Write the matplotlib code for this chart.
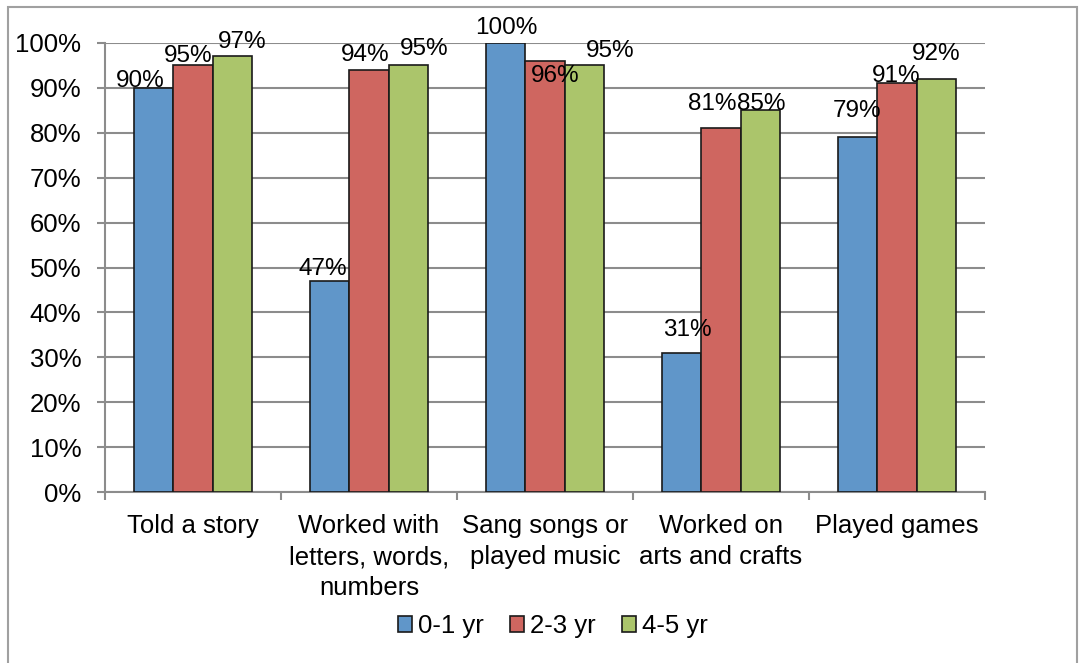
import numpy as np
import matplotlib.pyplot as plt
from matplotlib.patches import Rectangle

plt.rcParams['font.family'] = ['Liberation Sans', 'DejaVu Sans']

categories = ['Told a story', 'Worked with\nletters, words,\nnumbers', 'Sang songs or\nplayed music',
              'Worked on\narts and crafts', 'Played games']
series = ['0-1 yr', '2-3 yr', '4-5 yr']
vals_01 = [90, 47, 100, 31, 79]
vals_23 = [95, 94, 96, 81, 91]
vals_45 = [97, 95, 95, 85, 92]
colors = ['#6096C9', '#CF6660', '#ABC56B']

# label nudges (pixels, baseline relative to bar top) as placed in the original chart
offsets = [
    [(-14, 1), (-7, 6), (0, 9), (5, 17), (-1, 20)],
    [(-5, 3), (-4, 9), (10, -21), (-9, 18), (-1, 1)],
    [(10, 8), (16, 10), (26, 8), (1, 0), (0, 19)],
]

fig = plt.figure(figsize=(10.84, 6.63), dpi=100)
ax = fig.add_axes([105/1084, 1-492/663, 880/1084, 449/663])

x = np.arange(len(categories))
w = 1/4.5
for i, (vals, c) in enumerate(zip([vals_01, vals_23, vals_45], colors)):
    bars = ax.bar(x + (i-1)*w, vals, w, color=c, edgecolor='#1a1a1a', linewidth=1.2,
                  label=series[i], zorder=3)
    for b, v, (dx, dy) in zip(bars, vals, offsets[i]):
        ax.annotate(f'{v}%', (b.get_x() + b.get_width()/2, v), xytext=(dx, dy),
                    textcoords='offset pixels', ha='center', va='baseline',
                    fontsize=17.5, zorder=4)

ax.set_xlim(-0.5, 4.5)
ax.set_ylim(0, 100)
ax.set_yticks(range(0, 101, 10))
ax.set_yticklabels([f'{t}%' for t in range(0, 101, 10)], fontsize=18.5)
ax.yaxis.grid(True, color='#8c8c8c', linewidth=1.5, zorder=0)

ax.set_xticks(np.arange(-0.5, 5, 1))
ax.set_xticklabels([])
ax.set_xticks(x, minor=True)
ax.set_xticklabels(categories, minor=True, fontsize=18.5, linespacing=1.36)
ax.tick_params(axis='x', which='minor', length=0, pad=16)
ax.tick_params(axis='both', which='major', length=6, width=1.5, color='#8c8c8c')
ax.tick_params(axis='y', pad=11)

for s in ['top', 'right']:
    ax.spines[s].set_visible(False)
for s in ['left', 'bottom']:
    ax.spines[s].set_color('#8c8c8c')
    ax.spines[s].set_linewidth(1.5)

ax.legend(loc='center', bbox_to_anchor=(553/1084, 1-626/663), bbox_transform=fig.transFigure,
          ncol=3, frameon=False, fontsize=18.5, handlelength=0.55, handleheight=0.55,
          handletextpad=0.25, columnspacing=1.0)

fig.patches.append(Rectangle((8/1084, -0.05), 1069/1084, 1.05 - 7/663, transform=fig.transFigure,
                             fill=False, edgecolor='#a0a0a0', linewidth=1.5))

plt.savefig('out.png', dpi=100)
